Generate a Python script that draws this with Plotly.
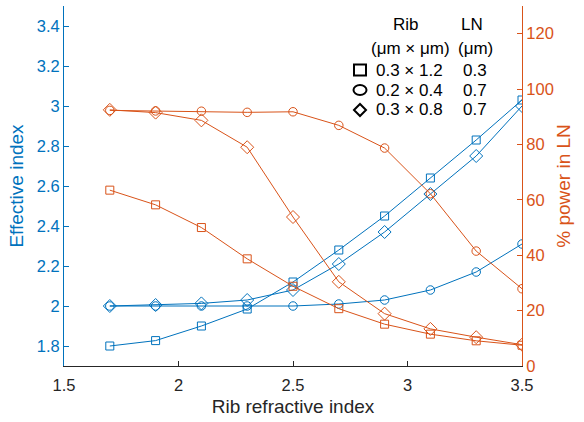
import plotly.graph_objects as go

x = [1.7, 1.9, 2.1, 2.3, 2.5, 2.7, 2.9, 3.1, 3.3, 3.5]

# Effective index (left axis)
neff_sq = [1.80, 1.827, 1.90, 1.985, 2.12, 2.28, 2.45, 2.64, 2.83, 3.03]
neff_ci = [2.00, 2.00, 2.00, 2.00, 2.00, 2.01, 2.03, 2.08, 2.17, 2.31]
neff_di = [2.00, 2.005, 2.013, 2.03, 2.08, 2.21, 2.37, 2.56, 2.75, 3.00]

# % power in LN (right axis)
pow_sq = [63.5, 58.2, 50.0, 38.7, 28.8, 20.7, 15.1, 11.5, 9.1, 7.5]
pow_ci = [92.3, 92.1, 92.0, 91.6, 91.8, 86.9, 78.7, 62.2, 41.5, 27.9]
pow_di = [92.5, 91.5, 88.7, 79.0, 53.8, 30.4, 18.9, 13.4, 10.4, 7.7]

x_ticks = [1.5, 2, 2.5, 3, 3.5]
x_labels = ["1.5", "2", "2.5", "3", "3.5"]
y_ticks = [1.8, 2.0, 2.2, 2.4, 2.6, 2.8, 3.0, 3.2, 3.4]
y_labels = ["1.8", "2", "2.2", "2.4", "2.6", "2.8", "3", "3.2", "3.4"]
y2_ticks = [0, 20, 40, 60, 80, 100, 120]
y2_labels = ["0", "20", "40", "60", "80", "100", "120"]

legend_rib = ["0.3 × 1.2", "0.2 × 0.4", "0.3 × 0.8"]
legend_ln = ["0.3", "0.7", "0.7"]

BLUE = "#0072BD"
ORANGE = "#D95319"
DARK = "#262626"
FONT = "Liberation Sans"
TICK = 16.5
TITLE = 19

fig = go.Figure()

symbols = ["square-open", "circle-open", "diamond-open"]
sizes = [8, 8.5, 10]
for vals, sym, sz in zip([neff_sq, neff_ci, neff_di], symbols, sizes):
    fig.add_trace(go.Scatter(x=x, y=vals, mode="lines+markers", yaxis="y",
                             line=dict(color=BLUE, width=1),
                             marker=dict(symbol=sym, size=sz, color=BLUE, line=dict(width=1)),
                             showlegend=False))
for vals, sym, sz in zip([pow_sq, pow_ci, pow_di], symbols, sizes):
    fig.add_trace(go.Scatter(x=x, y=vals, mode="lines+markers", yaxis="y2",
                             line=dict(color=ORANGE, width=1),
                             marker=dict(symbol=sym, size=sz, color=ORANGE, line=dict(width=1)),
                             showlegend=False))

W, H = 584, 422
L, R, T, B = 64, 62, 6, 56
pw, ph = W - L - R, H - T - B

def px(xp):
    return (xp - L) / pw

def py(yp):
    return 1 - (yp - T) / ph

annotations = []
shapes = []
tf = dict(family=FONT, size=17, color="black")
annotations.append(dict(x=px(406), y=py(24), xref="paper", yref="paper", text="Rib",
                        showarrow=False, font=tf, xanchor="center", yanchor="middle"))
annotations.append(dict(x=px(472), y=py(24), xref="paper", yref="paper", text="LN",
                        showarrow=False, font=tf, xanchor="center", yanchor="middle"))
annotations.append(dict(x=px(410), y=py(48), xref="paper", yref="paper", text="(μm × μm)",
                        showarrow=False, font=tf, xanchor="center", yanchor="middle"))
annotations.append(dict(x=px(475), y=py(48), xref="paper", yref="paper", text="(μm)",
                        showarrow=False, font=tf, xanchor="center", yanchor="middle"))
row_y = [70, 90, 110]
for i, (rib, ln) in enumerate(zip(legend_rib, legend_ln)):
    annotations.append(dict(x=px(374), y=py(row_y[i]), xref="paper", yref="paper", text=rib,
                            showarrow=False, font=tf, xanchor="left", yanchor="middle"))
    annotations.append(dict(x=px(475), y=py(row_y[i]), xref="paper", yref="paper", text=ln,
                            showarrow=False, font=tf, xanchor="center", yanchor="middle"))

# legend symbols
cx = 360
s = 6
shapes.append(dict(type="rect", xref="paper", yref="paper",
                   x0=px(cx - s), x1=px(cx + s), y0=py(row_y[0] + 5.5), y1=py(row_y[0] - 5.5),
                   line=dict(color="black", width=2)))
shapes.append(dict(type="circle", xref="paper", yref="paper",
                   x0=px(cx - 6.5), x1=px(cx + 6.5), y0=py(row_y[1] + 5), y1=py(row_y[1] - 5),
                   line=dict(color="black", width=2)))
yd = row_y[2]
path = "M {},{} L {},{} L {},{} L {},{} Z".format(
    px(cx - 6), py(yd), px(cx), py(yd - 6), px(cx + 6), py(yd), px(cx), py(yd + 6))
shapes.append(dict(type="path", xref="paper", yref="paper", path=path,
                   line=dict(color="black", width=2)))

fig.update_layout(
    width=W, height=H,
    margin=dict(l=L, r=R, t=T, b=B, pad=0),
    paper_bgcolor="white", plot_bgcolor="white",
    font=dict(family=FONT, size=TICK),
    xaxis=dict(range=[1.5, 3.5], tickvals=x_ticks, ticktext=x_labels,
               showgrid=False, zeroline=False, showline=True, linecolor=DARK, linewidth=1,
               ticks="inside", ticklen=5, tickcolor=DARK, ticklabelstandoff=4,
               tickfont=dict(family=FONT, size=TICK, color=DARK),
               title=dict(text="Rib refractive index", font=dict(family=FONT, size=TITLE, color=DARK),
                          standoff=6)),
    yaxis=dict(range=[1.7, 3.5], tickvals=y_ticks, ticktext=y_labels,
               showgrid=False, zeroline=False, showline=True, linecolor=BLUE, linewidth=1,
               ticks="inside", ticklen=5, tickcolor=BLUE,
               tickfont=dict(family=FONT, size=TICK, color=BLUE),
               title=dict(text="Effective index", font=dict(family=FONT, size=TITLE, color=BLUE),
                          standoff=8)),
    yaxis2=dict(range=[0, 130], tickvals=y2_ticks, ticktext=y2_labels, overlaying="y", side="right",
                showgrid=False, zeroline=False, showline=True, linecolor=ORANGE, linewidth=1,
                ticks="inside", ticklen=5, tickcolor=ORANGE,
                tickfont=dict(family=FONT, size=TICK, color=ORANGE),
                title=dict(text="% power in LN", font=dict(family=FONT, size=TITLE, color=ORANGE),
                           standoff=3)),
    annotations=annotations,
    shapes=shapes,
)

fig.write_html("out.html")
